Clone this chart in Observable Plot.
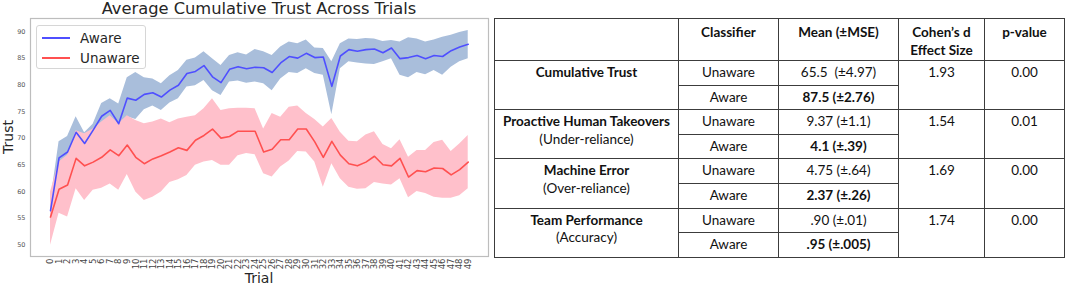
<!DOCTYPE html>
<html>
<head>
<meta charset="utf-8">
<script src="https://cdn.jsdelivr.net/npm/d3@7"></script>
<script src="https://cdn.jsdelivr.net/npm/@observablehq/plot@0.6"></script>
<style>
  html, body { margin: 0; padding: 0; background: #fff; }
  #wrap { position: relative; width: 1065px; height: 287px; overflow: hidden; font-family: "DejaVu Sans", sans-serif; }
  #chart { position: absolute; left: 0; top: 0; }
  .title { position: absolute; left: 30px; width: 458px; top: 0px; text-align: center; font-size: 16.3px; color: #262626; line-height: 18px; white-space: nowrap; }
  .xlab { position: absolute; left: 30px; width: 458px; top: 270px; text-align: center; font-size: 14px; color: #262626; line-height: 16px; }
  .ylab { position: absolute; left: 8px; top: 137px; transform: translate(-50%, -50%) rotate(-90deg); font-size: 14px; color: #262626; white-space: nowrap; line-height: 16px; }
  .legend { position: absolute; left: 36px; top: 25px; width: 110px; height: 44px; border: 1px solid #d6d6d6; border-radius: 3px; background: rgba(255,255,255,0.85); box-sizing: border-box; }
  .legend .item { position: absolute; left: 0; height: 20px; width: 109px; }
  .legend .sw { position: absolute; left: 5px; top: 9px; width: 28px; height: 1.6px; }
  .legend .lt { position: absolute; left: 43px; top: 1px; font-size: 13.5px; color: #262626; line-height: 18px; }
  table.stats { position: absolute; left: 494px; top: 18px; border-collapse: collapse; table-layout: fixed; width: 570px; font-family: Lato, "Open Sans", sans-serif; font-size: 13.5px; color: #111; }
  table.stats td, table.stats th { border: 1.3px solid #3c3c3c; padding: 0; text-align: center; vertical-align: top; line-height: 17.5px; }
  table.stats th { font-weight: bold; height: 42px; padding-top: 5px; box-sizing: border-box; }
  table.stats td { height: 24.6px; padding-top: 3px; box-sizing: border-box; white-space: pre; }
  table.stats b { font-weight: bold; }
</style>
</head>
<body>
<div id="wrap">
  <div id="chart"></div>
  <div class="title">Average Cumulative Trust Across Trials</div>
  <div class="ylab">Trust</div>
  <div class="xlab">Trial</div>
  <div class="legend" id="legend"></div>
  <table class="stats" id="stats"></table>
</div>
<script>
// ---- Chart data ----
const awareMean = [56.4,66.3,67.4,71.1,69.0,71.5,74.1,75.2,72.7,77.5,77.1,78.2,78.5,77.7,79.0,79.9,82.1,82.5,83.6,81.5,80.4,82.9,83.4,83.0,83.3,83.2,82.3,84.1,85.3,85.0,85.9,85.1,85.2,79.7,85.4,86.6,86.3,86.6,86.7,86.0,86.9,84.9,85.1,85.5,84.9,85.5,85.3,86.4,87.1,87.6];
const awareUpper = [58.0,69.3,70.3,74.0,71.0,72.6,76.5,77.4,76.4,81.3,82.3,81.3,81.1,80.2,81.7,82.7,84.6,85.0,86.2,84.9,83.6,85.5,86.0,85.6,86.6,86.2,85.5,87.1,88.0,87.7,88.4,86.9,86.8,84.3,87.7,88.6,88.5,88.7,88.6,88.1,88.3,88.0,88.8,88.6,88.0,88.4,88.9,89.3,89.8,90.2];
const awareLower = [55.0,63.5,64.8,68.3,67.0,69.3,71.5,73.0,69.5,74.0,73.5,75.3,76.0,75.2,76.6,77.4,79.6,79.8,80.8,78.9,78.0,80.5,80.7,80.3,80.5,80.2,78.9,81.1,82.3,82.1,83.0,82.1,81.8,74.4,83.0,84.3,84.1,83.9,83.8,84.3,84.9,81.8,81.3,82.3,81.9,82.7,81.8,83.3,84.3,84.9];
const unawareMean = [55.2,60.4,61.2,66.2,64.8,65.5,66.4,67.8,66.7,68.7,66.4,65.2,66.1,66.7,67.4,68.2,67.7,69.6,70.5,71.7,70.0,70.3,71.3,71.3,71.3,67.4,67.9,69.7,69.7,71.7,71.7,69.3,66.4,69.4,66.8,65.2,64.8,65.5,66.6,65.0,64.8,66.2,62.7,63.9,63.7,64.4,64.3,63.1,64.1,65.5];
const unawareUpper = [59.9,65.5,66.8,71.4,70.8,71.7,73.0,74.2,72.7,74.2,73.3,72.7,73.0,73.6,72.9,73.6,73.9,74.2,75.5,77.4,75.2,75.5,75.6,75.6,75.5,71.7,74.6,73.9,75.8,76.0,74.6,73.5,72.1,73.7,71.1,69.4,69.3,70.6,71.2,68.8,68.0,69.7,66.4,67.7,67.7,69.2,69.6,67.5,68.9,70.5];
const unawareLower = [49.9,55.9,55.2,60.5,58.3,60.2,60.6,61.4,60.2,63.2,59.9,58.3,58.9,59.9,61.7,62.2,63.0,64.9,65.5,65.8,64.9,64.9,66.7,67.1,66.9,63.3,62.7,64.6,65.7,67.5,67.4,65.5,60.8,65.2,62.4,60.8,60.4,60.5,61.7,61.4,61.2,62.4,58.8,60.0,59.6,58.9,58.7,58.7,59.2,60.5];
const trials = [0,1,2,3,4,5,6,7,8,9,10,11,12,13,14,15,16,17,18,19,20,21,22,23,24,25,26,27,28,29,30,31,32,33,34,35,36,37,38,39,40,41,42,43,44,45,46,47,48,49];
const yTicks = [50,55,60,65,70,75,80,85,90];
const seriesNames = ["Aware", "Unaware"];

// ---- Table data ----
const headers = ["", "Classifier", "Mean (±MSE)", "Cohen’s d\nEffect Size", "p-value"];
const metrics = ["Cumulative Trust", "Proactive Human Takeovers", "Machine Error", "Team Performance"];
const metricNotes = ["", "(Under-reliance)", "(Over-reliance)", "(Accuracy)"];
const classifiers = ["Unaware", "Aware"];
const unawareStats = ["65.5  (±4.97)", "9.37 (±1.1)", "4.75 (±.64)", ".90 (±.01)"];
const awareStats = ["87.5 (±2.76)", "4.1 (±.39)", "2.37 (±.26)", ".95 (±.005)"];
const effectSizes = ["1.93", "1.54", "1.69", "1.74"];
const pValues = ["0.00", "0.01", "0.00", "0.00"];

const colors = {aware: "#4f4fff", unaware: "#ff5050", awareBand: "#a9bedb", unawareBand: "#ffc0cb"};

const rows = trials.map((t, i) => ({
  trial: t,
  aMean: awareMean[i], aHi: awareUpper[i], aLo: awareLower[i],
  uMean: unawareMean[i], uHi: unawareUpper[i], uLo: unawareLower[i]
}));

const chart = Plot.plot({
  width: 492,
  height: 287,
  marginLeft: 30,
  marginRight: 4,
  marginTop: 18,
  marginBottom: 31,
  style: {fontFamily: "DejaVu Sans, sans-serif", background: "transparent"},
  x: {domain: [-2.35, 51.38]},
  y: {domain: [47.8, 92.43]},
  marks: [
    Plot.areaY(rows, {x: "trial", y1: "aLo", y2: "aHi", fill: colors.awareBand}),
    Plot.areaY(rows, {x: "trial", y1: "uLo", y2: "uHi", fill: colors.unawareBand}),
    Plot.lineY(rows, {x: "trial", y: "aMean", stroke: colors.aware, strokeWidth: 1.6}),
    Plot.lineY(rows, {x: "trial", y: "uMean", stroke: colors.unaware, strokeWidth: 1.6}),
    Plot.frame({stroke: "#bdbdbd", strokeWidth: 1.2}),
    Plot.axisY({ticks: yTicks, tickSize: 0, tickPadding: 5, fontSize: 6.5, fill: "#555", label: null}),
    Plot.axisX({ticks: trials, tickSize: 0, tickPadding: 2, tickRotate: -90, fontSize: 8.5, fill: "#444", label: null, tickFormat: d => String(d)})
  ]
});
document.getElementById("chart").appendChild(chart);

// Legend
const legend = document.getElementById("legend");
[colors.aware, colors.unaware].forEach((c, i) => {
  const item = document.createElement("div");
  item.className = "item";
  item.style.top = (2 + i * 20) + "px";
  const sw = document.createElement("div");
  sw.className = "sw";
  sw.style.background = c;
  const lt = document.createElement("div");
  lt.className = "lt";
  lt.textContent = seriesNames[i];
  item.appendChild(sw);
  item.appendChild(lt);
  legend.appendChild(item);
});

// Table
const table = document.getElementById("stats");
const colWidths = [184, 100, 120, 86, 80];
const cg = document.createElement("colgroup");
colWidths.forEach(w => { const c = document.createElement("col"); c.style.width = w + "px"; cg.appendChild(c); });
table.appendChild(cg);
const hr = document.createElement("tr");
headers.forEach(h => {
  const th = document.createElement("th");
  h.split("\n").forEach((line, k) => {
    if (k) th.appendChild(document.createElement("br"));
    th.appendChild(document.createTextNode(line));
  });
  hr.appendChild(th);
});
table.appendChild(hr);
metrics.forEach((m, i) => {
  const r1 = document.createElement("tr");
  const mc = document.createElement("td");
  mc.rowSpan = 2;
  const b = document.createElement("b");
  b.textContent = m;
  mc.appendChild(b);
  if (metricNotes[i]) {
    mc.appendChild(document.createElement("br"));
    mc.appendChild(document.createTextNode(metricNotes[i]));
  }
  r1.appendChild(mc);
  const c1 = document.createElement("td"); c1.textContent = classifiers[0]; r1.appendChild(c1);
  const v1 = document.createElement("td"); v1.textContent = unawareStats[i]; r1.appendChild(v1);
  const d = document.createElement("td"); d.rowSpan = 2; d.textContent = effectSizes[i]; r1.appendChild(d);
  const p = document.createElement("td"); p.rowSpan = 2; p.textContent = pValues[i]; r1.appendChild(p);
  table.appendChild(r1);
  const r2 = document.createElement("tr");
  const c2 = document.createElement("td"); c2.textContent = classifiers[1]; r2.appendChild(c2);
  const v2 = document.createElement("td");
  const bb = document.createElement("b"); bb.textContent = awareStats[i]; v2.appendChild(bb);
  r2.appendChild(v2);
  table.appendChild(r2);
});
</script>
</body>
</html>
